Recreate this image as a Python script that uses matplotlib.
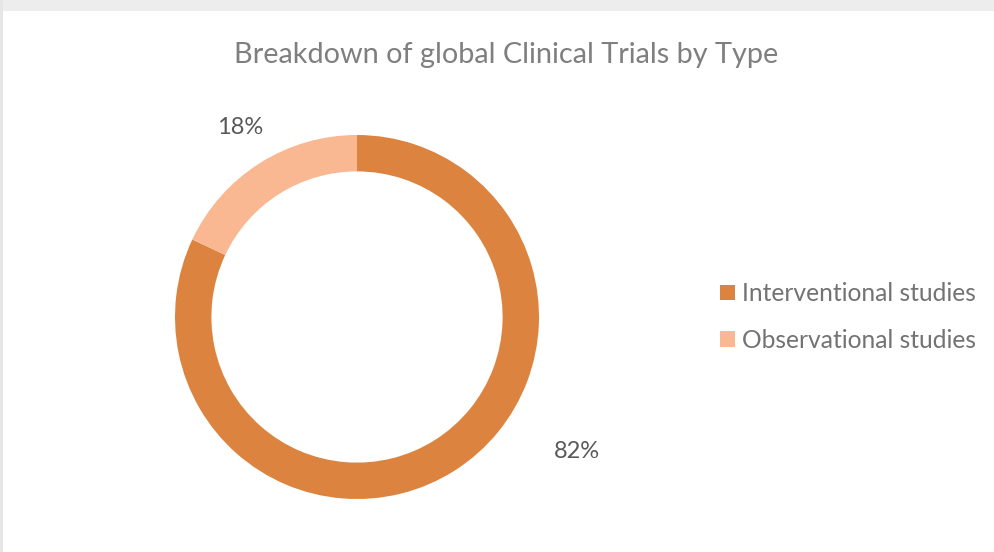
import matplotlib
matplotlib.use("Agg")
import matplotlib.pyplot as plt
from matplotlib.patches import Rectangle, Patch

categories = ["Interventional studies", "Observational studies"]
values = [82, 18]
labels = ["82%", "18%"]
colors = ["#DC843F", "#F9B792"]
title = "Breakdown of global Clinical Trials by Type"

plt.rcParams['font.family'] = ['Lato', 'DejaVu Sans']
W, H = 995, 552
fig = plt.figure(figsize=(W / 100, H / 100), dpi=100)
fig.patch.set_facecolor("white")
# outer gray frame (top and left)
fig.patches.append(Rectangle((0, 1 - 11 / H), 1, 11 / H, transform=fig.transFigure,
                             facecolor="#EDEDED", edgecolor="none", zorder=0))
fig.patches.append(Rectangle((0, 0), 3 / W, 1, transform=fig.transFigure,
                             facecolor="#E6E6E6", edgecolor="none", zorder=0))

cx, cy, r = 357, 317, 182
ax = fig.add_axes([(cx - r) / W, (H - cy - r) / H, 2 * r / W, 2 * r / H])
wedges, _ = ax.pie(values, colors=colors, startangle=90, counterclock=False,
                   radius=1, wedgeprops=dict(width=0.2, edgecolor="none"))
ax.set_xlim(-1, 1)
ax.set_ylim(-1, 1)
ax.set_aspect("equal")
ax.axis("off")

# data labels
label_pos = [(577, 452), (240, 128)]
for lab, (x, y) in zip(labels, label_pos):
    fig.text(x / W, 1 - y / H, lab, ha="center", va="center", fontsize=17, color="#595959")

fig.text(506 / W, 1 - 55 / H, title, ha="center", va="center", fontsize=20.8, color="#7F7F7F")

handles = [Patch(facecolor=c, edgecolor="none") for c in colors]
fig.legend(handles, categories, loc="center left", bbox_to_anchor=(720 / W, 1 - 317 / H),
           frameon=False, fontsize=17.7, labelcolor="#737373", handlelength=0.6,
           handleheight=0.6, handletextpad=0.3, labelspacing=0.95, borderpad=0,
           borderaxespad=0)

fig.savefig("out.png", dpi=100, facecolor="white")
